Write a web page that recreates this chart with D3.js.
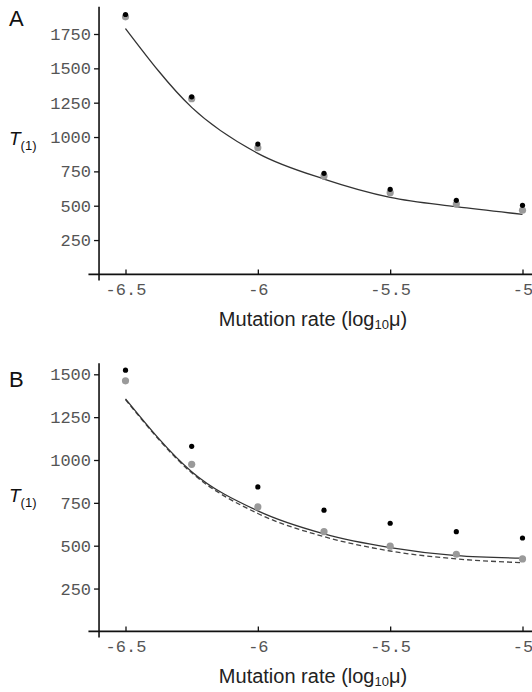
<!DOCTYPE html>
<html>
<head>
<meta charset="utf-8">
<script src="https://cdn.jsdelivr.net/npm/d3@7"></script>
<style>
  body { margin: 0; background: #fff; }
  svg { display: block; }
</style>
</head>
<body>
<div id="app"></div>
<script>
'use strict'
// log10(mu) at which T(1) was measured
const logMu = [-6.5, -6.25, -6, -5.75, -5.5, -5.25, -5]
const xTicks = [-6.5, -6, -5.5, -5]

// panel A
const aBlack = [1892, 1293, 949, 736, 619, 539, 503]
const aGray = [1875, 1279, 922, 716, 595, 512, 467]
const aFit = [1790, 1216, 881, 694, 561, 493, 437]
const aYTicks = [250, 500, 750, 1000, 1250, 1500, 1750]

// panel B
const bBlack = [1524, 1080, 843, 707, 631, 582, 545]
const bGray = [1462, 975, 726, 582, 497, 450, 423]
const bFit = [1357, 932, 703, 569, 489, 442, 427]
const bFitDashed = [1352, 925, 688, 553, 469, 423, 401]
const bYTicks = [250, 500, 750, 1000, 1250, 1500]

const width = 532
const height = 692
const svg = d3.select('#app').append('svg')
  .attr('width', width)
  .attr('height', height)

const x = d3.scaleLinear().domain([-6.5, -5]).range([125.5, 522.5])
const monoFont = '"Liberation Mono", "DejaVu Sans Mono", monospace'
const sansFont = '"Liberation Sans", Arial, sans-serif'

const drawPanel = (opts) => {
  const y = d3.scaleLinear().domain([0, opts.yMax]).range([opts.y0, opts.yTop])
  const g = svg.append('g')
  const axisX = x(-6.6)

  // y ticks, pointing left
  const yAxis = g.append('g')
    .attr('transform', `translate(${axisX},0)`)
    .call(d3.axisLeft(y).tickValues(opts.yTicks).tickSize(5).tickPadding(3).tickFormat(d3.format('d')))
  yAxis.select('.domain').remove()
  yAxis.selectAll('line').attr('stroke', '#111').attr('stroke-width', 1.3)
  yAxis.selectAll('text')
    .attr('fill', '#555')
    .style('font-family', monoFont)
    .style('font-size', '17px')

  // x ticks, pointing up into the plot
  const xAxis = g.append('g')
    .attr('transform', `translate(0,${opts.y0})`)
    .call(d3.axisBottom(x).tickValues(xTicks).tickSize(-5).tickPadding(9).tickFormat(d => String(d)))
  xAxis.select('.domain').remove()
  xAxis.selectAll('line').attr('stroke', '#111').attr('stroke-width', 1.3)
  xAxis.selectAll('text')
    .attr('fill', '#555')
    .style('font-family', monoFont)
    .style('font-size', '17px')

  // axis lines
  g.append('line')
    .attr('x1', axisX).attr('x2', axisX)
    .attr('y1', opts.axisTop).attr('y2', opts.y0 + 6)
    .attr('stroke', '#111').attr('stroke-width', 1.6)
  g.append('line')
    .attr('x1', x(-6.64)).attr('x2', width)
    .attr('y1', opts.y0).attr('y2', opts.y0)
    .attr('stroke', '#111').attr('stroke-width', 1.6)

  const line = d3.line()
    .x((d, i) => x(logMu[i]))
    .y(d => y(d))
    .curve(d3.curveMonotoneX)

  if (opts.dashed) {
    g.append('path')
      .attr('d', line(opts.dashed))
      .attr('fill', 'none')
      .attr('stroke', '#444')
      .attr('stroke-width', 1.3)
      .attr('stroke-dasharray', '5,3')
  }
  g.append('path')
    .attr('d', line(opts.fit))
    .attr('fill', 'none')
    .attr('stroke', '#333')
    .attr('stroke-width', 1.3)

  g.selectAll('circle.gray')
    .data(opts.gray)
    .enter().append('circle')
    .attr('class', 'gray')
    .attr('cx', (d, i) => x(logMu[i]))
    .attr('cy', d => y(d))
    .attr('r', 3.6)
    .attr('fill', '#9a9a9a')

  g.selectAll('circle.black')
    .data(opts.black)
    .enter().append('circle')
    .attr('class', 'black')
    .attr('cx', (d, i) => x(logMu[i]))
    .attr('cy', d => y(d))
    .attr('r', 2.6)
    .attr('fill', '#000')

  // panel letter
  g.append('text')
    .attr('x', 9).attr('y', opts.yTop - opts.letterUp)
    .text(opts.letter)
    .style('font-family', sansFont)
    .style('font-size', '22px')
    .attr('fill', '#111')

  // T(1) label
  const t = g.append('text')
    .attr('x', 9).attr('y', opts.y0 - 129)
    .style('font-family', sansFont)
    .attr('fill', '#111')
  t.append('tspan').text('T').style('font-style', 'italic').style('font-size', '19px')
  t.append('tspan').text('(1)').attr('dy', 5).style('font-size', '13px')

  // x axis title
  const title = g.append('text')
    .attr('x', 313).attr('y', opts.y0 + 52)
    .attr('text-anchor', 'middle')
    .style('font-family', sansFont)
    .style('font-size', '20px')
    .attr('fill', '#222')
  title.append('tspan').text('Mutation rate (log')
  title.append('tspan').text('10').attr('dy', 3).style('font-size', '13px')
  title.append('tspan').text('\u03bc)').attr('dy', -3)
}

drawPanel({
  letter: 'A', letterUp: 8,
  yMax: 1750, yTicks: aYTicks, y0: 274.4, yTop: 34, axisTop: 6.7,
  black: aBlack, gray: aGray, fit: aFit
})

drawPanel({
  letter: 'B', letterUp: -13,
  yMax: 1500, yTicks: bYTicks, y0: 631.4, yTop: 374.3, axisTop: 363.3,
  black: bBlack, gray: bGray, fit: bFit, dashed: bFitDashed
})
</script>
</body>
</html>
